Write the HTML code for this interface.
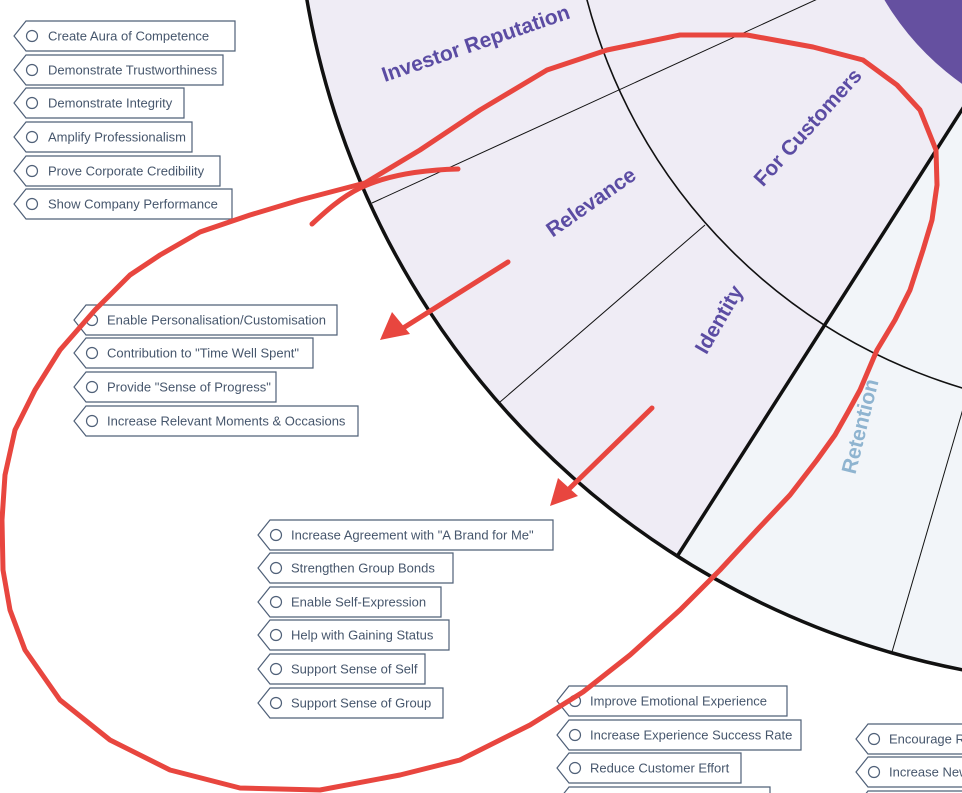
<!DOCTYPE html>
<html><head><meta charset="utf-8"><style>
html,body{margin:0;padding:0;background:#fff;overflow:hidden;width:962px;height:793px;}
svg{display:block;}
.t{font-family:"Liberation Sans",sans-serif;font-size:13px;fill:#46566c;}
.tag{fill:#fff;stroke:#4f6078;stroke-width:1.2;}
.c{fill:none;stroke:#4f6078;stroke-width:1.2;}
.lab{font-family:"Liberation Sans",sans-serif;font-weight:bold;font-size:21px;fill:#5b4ca3;}
</style></head><body>
<svg width="962" height="793" viewBox="0 0 962 793" xmlns="http://www.w3.org/2000/svg">
<defs><clipPath id="cc"><circle cx="1120" cy="-140" r="825"/></clipPath></defs>
<circle cx="1120" cy="-140" r="825" fill="#efecf5"/>
<polygon points="1120,-140 236,1250 1600,1250 1600,-140" fill="#f2f5f9" clip-path="url(#cc)"/>
<circle cx="1120" cy="-140" r="551" fill="none" stroke="#111" stroke-width="1.6"/>
<circle cx="1120" cy="-140" r="825" fill="none" stroke="#111" stroke-width="3.5"/>
<circle cx="1120" cy="-140" r="274" fill="#6550a0"/>
<line x1="678" y1="555" x2="972" y2="94" stroke="#111" stroke-width="3.5"/>
<line x1="372" y1="203" x2="870" y2="-25" stroke="#111" stroke-width="1"/>
<line x1="500" y1="402" x2="705" y2="225" stroke="#111" stroke-width="1"/>
<line x1="892" y1="652" x2="965" y2="402" stroke="#111" stroke-width="1"/>

<text class="lab" transform="translate(478,50) rotate(-19)" text-anchor="middle">Investor Reputation</text>
<text class="lab" transform="translate(595,208) rotate(-35)" text-anchor="middle">Relevance</text>
<text class="lab" transform="translate(813,132) rotate(-48)" text-anchor="middle">For Customers</text>
<text class="lab" transform="translate(725,323) rotate(-60)" text-anchor="middle">Identity</text>
<text class="lab" transform="translate(867,428) rotate(-76)" text-anchor="middle" style="fill:#8fb4d0">Retention</text>

<g>
<polygon class="tag" points="14,36 26,21 235,21 235,51 26,51"/><circle class="c" cx="32" cy="36" r="5.5"/><text class="t" x="48" y="40.5">Create Aura of Competence</text>
<polygon class="tag" points="14,70 26,55 223,55 223,85 26,85"/><circle class="c" cx="32" cy="70" r="5.5"/><text class="t" x="48" y="74.5">Demonstrate Trustworthiness</text>
<polygon class="tag" points="14,103 26,88 184,88 184,118 26,118"/><circle class="c" cx="32" cy="103" r="5.5"/><text class="t" x="48" y="107.5">Demonstrate Integrity</text>
<polygon class="tag" points="14,137 26,122 192,122 192,152 26,152"/><circle class="c" cx="32" cy="137" r="5.5"/><text class="t" x="48" y="141.5">Amplify Professionalism</text>
<polygon class="tag" points="14,171 26,156 220,156 220,186 26,186"/><circle class="c" cx="32" cy="171" r="5.5"/><text class="t" x="48" y="175.5">Prove Corporate Credibility</text>
<polygon class="tag" points="14,204 26,189 232,189 232,219 26,219"/><circle class="c" cx="32" cy="204" r="5.5"/><text class="t" x="48" y="208.5">Show Company Performance</text>

<polygon class="tag" points="74,320 86,305 337,305 337,335 86,335"/><circle class="c" cx="92" cy="320" r="5.5"/><text class="t" x="107" y="324.5">Enable Personalisation/Customisation</text>
<polygon class="tag" points="74,353 86,338 313,338 313,368 86,368"/><circle class="c" cx="92" cy="353" r="5.5"/><text class="t" x="107" y="357.5">Contribution to "Time Well Spent"</text>
<polygon class="tag" points="74,387 86,372 276,372 276,402 86,402"/><circle class="c" cx="92" cy="387" r="5.5"/><text class="t" x="107" y="391.5">Provide "Sense of Progress"</text>
<polygon class="tag" points="74,421 86,406 358,406 358,436 86,436"/><circle class="c" cx="92" cy="421" r="5.5"/><text class="t" x="107" y="425.5">Increase Relevant Moments &amp; Occasions</text>

<polygon class="tag" points="258,535 270,520 553,520 553,550 270,550"/><circle class="c" cx="276" cy="535" r="5.5"/><text class="t" x="291" y="539.5">Increase Agreement with "A Brand for Me"</text>
<polygon class="tag" points="258,568 270,553 453,553 453,583 270,583"/><circle class="c" cx="276" cy="568" r="5.5"/><text class="t" x="291" y="572.5">Strengthen Group Bonds</text>
<polygon class="tag" points="258,602 270,587 441,587 441,617 270,617"/><circle class="c" cx="276" cy="602" r="5.5"/><text class="t" x="291" y="606.5">Enable Self-Expression</text>
<polygon class="tag" points="258,635 270,620 449,620 449,650 270,650"/><circle class="c" cx="276" cy="635" r="5.5"/><text class="t" x="291" y="639.5">Help with Gaining Status</text>
<polygon class="tag" points="258,669 270,654 425,654 425,684 270,684"/><circle class="c" cx="276" cy="669" r="5.5"/><text class="t" x="291" y="673.5">Support Sense of Self</text>
<polygon class="tag" points="258,703 270,688 443,688 443,718 270,718"/><circle class="c" cx="276" cy="703" r="5.5"/><text class="t" x="291" y="707.5">Support Sense of Group</text>

<polygon class="tag" points="557,701 569,686 787,686 787,716 569,716"/><circle class="c" cx="575" cy="701" r="5.5"/><text class="t" x="590" y="705.5">Improve Emotional Experience</text>
<polygon class="tag" points="557,735 569,720 801,720 801,750 569,750"/><circle class="c" cx="575" cy="735" r="5.5"/><text class="t" x="590" y="739.5">Increase Experience Success Rate</text>
<polygon class="tag" points="557,768 569,753 741,753 741,783 569,783"/><circle class="c" cx="575" cy="768" r="5.5"/><text class="t" x="590" y="772.5">Reduce Customer Effort</text>
<polygon class="tag" points="557,802 569,787 770,787 770,817 569,817"/>

<polygon class="tag" points="856,739 868,724 980,724 980,754 868,754"/><circle class="c" cx="874" cy="739" r="5.5"/><text class="t" x="889" y="743.5">Encourage Re</text>
<polygon class="tag" points="856,772 868,757 980,757 980,787 868,787"/><circle class="c" cx="874" cy="772" r="5.5"/><text class="t" x="889" y="776.5">Increase New</text>
<polygon class="tag" points="856,806 868,791 980,791 980,821 868,821"/>
</g>

<g fill="none" stroke="#e8463f" stroke-width="5" stroke-linecap="round" stroke-linejoin="round">
<path d="M458,169 C420,170 385,176 360,188 C340,198 325,212 312,224"/>
<polyline points="583,692 630,655 680,610 720,570 757,530 790,495 817,460 835,435 848,412 860,390 877,350 895,320 910,290 923,250 932,220 937,185 936,150 920,110 897,85 863,60 813,47 747,35 680,35 607,50 547,70 480,110 420,150 365,183 300,200 250,215 200,232 160,255 130,275 95,310 60,350 35,390 15,430 5,475 2,520 3,570 10,610 25,650 60,700 110,740 170,770 240,788 320,790 400,775 460,760 530,725 583,692"/>
<path d="M508,262 L400,330"/>
<path d="M652,408 L570,488"/>
</g>
<polygon points="380,340 392,312 410,334" fill="#e8463f"/>
<polygon points="550,506 558,478 578,496" fill="#e8463f"/>
</svg>
</body></html>
